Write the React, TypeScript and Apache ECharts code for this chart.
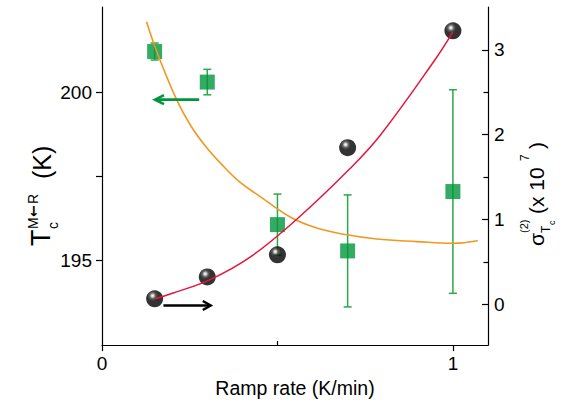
import React, { useEffect, useRef } from "react";
import * as echarts from "echarts";

// Transition temperature T_c (left axis) versus ramp rate
const rampRates = [0.15, 0.3, 0.5, 0.7, 1.0];
const tcValues = [193.85, 194.5, 195.16, 198.35, 201.83];

// Variance sigma^(2) (right axis, x 10^7) with error bars
const sigmaValues = [2.98, 2.62, 0.94, 0.63, 1.33];
const sigmaErrors = [0.1, 0.15, 0.36, 0.66, 1.2];

// Fitted curve through T_c
const tcFitX = [0.151, 0.203, 0.308, 0.422, 0.555, 0.707, 0.793, 0.949, 1.0];
const tcFitY = [193.85, 194.02, 194.42, 195.09, 196.22, 197.73, 198.72, 200.97, 201.8];

// Fitted curve through sigma
const sigmaFitX = [0.127, 0.156, 0.213, 0.254, 0.294, 0.341, 0.393, 0.451, 0.536, 0.612, 0.698, 0.783, 0.897, 1.0, 1.071];
const sigmaFitY = [3.33, 2.98, 2.41, 2.1, 1.87, 1.65, 1.44, 1.27, 1.03, 0.9, 0.82, 0.77, 0.74, 0.72, 0.75];

// Axis ticks
const xLabels = [0, 1];
const xMinorTicks = [0.5];
const leftLabels = [195, 200];
const leftTicks = [195, 197.5, 200];
const rightLabels = [0, 1, 2, 3];
const rightMinorTicks = [0.5, 1.5, 2.5];

// Arrows pointing at the axis each data set belongs to: [xStart, xEnd, y on left axis]
const blackArrow = [[0.175, 0.31, 193.65]];
const greenArrow = [[0.277, 0.151, 199.78]];

const FONT = "'Liberation Sans', Arial, Helvetica, sans-serif";
const GREEN = "#00963c";
const GREEN_BAR = "#2aa84a";

function arrowRenderer(color: string, width: number, headLen: number, headHalf: number) {
  return (params: any, api: any) => {
    const p1 = api.coord([api.value(0), api.value(2)]);
    const p2 = api.coord([api.value(1), api.value(2)]);
    const dir = p2[0] > p1[0] ? 1 : -1;
    return {
      type: "group",
      children: [
        {
          type: "line",
          shape: { x1: p1[0], y1: p1[1], x2: p2[0] - dir * 1, y2: p2[1] },
          style: { stroke: color, lineWidth: width },
        },
        {
          type: "polyline",
          shape: {
            points: [
              [p2[0] - dir * headLen, p2[1] - headHalf],
              [p2[0], p2[1]],
              [p2[0] - dir * headLen, p2[1] + headHalf],
            ],
          },
          style: { stroke: color, lineWidth: width, fill: "none", lineJoin: "miter" },
        },
      ],
    };
  };
}

export default function App() {
  const ref = useRef<HTMLDivElement>(null);

  useEffect(() => {
    document.body.style.margin = "0";
    const chart = echarts.init(ref.current!, null, { renderer: "svg" });

    const sphere = new echarts.graphic.RadialGradient(0.38, 0.32, 0.68, [
      { offset: 0, color: "#ffffff" },
      { offset: 0.1, color: "#d0d0d0" },
      { offset: 0.26, color: "#3a3a3a" },
      { offset: 0.45, color: "#000000" },
      { offset: 1, color: "#000000" },
    ]);

    const axisLine = { show: true, onZero: false, lineStyle: { color: "#000", width: 1.2 } };
    const labelStyle = { color: "#000", fontSize: 19, fontFamily: FONT };

    chart.setOption({
      animation: false,
      backgroundColor: "#fff",
      grid: { left: 102, right: 77, top: 7, bottom: 56 },
      xAxis: [
        {
          type: "value",
          min: 0,
          max: 1.1,
          position: "bottom",
          axisLine,
          axisTick: { show: true, customValues: xLabels, length: 6, lineStyle: { color: "#000", width: 1.2 } },
          axisLabel: { ...labelStyle, customValues: xLabels, margin: 9 },
          splitLine: { show: false },
          name: "Ramp rate (K/min)",
          nameLocation: "middle",
          nameGap: 30,
          nameTextStyle: { color: "#000", fontSize: 19.5, fontFamily: FONT },
        },
        {
          type: "value",
          min: 0,
          max: 1.1,
          position: "bottom",
          axisLine: { show: false, onZero: false },
          axisTick: { show: true, inside: true, customValues: xMinorTicks, length: 4, lineStyle: { color: "#000", width: 1.2 } },
          axisLabel: { show: false },
          splitLine: { show: false },
        },
      ],
      yAxis: [
        {
          type: "value",
          min: 192.47,
          max: 202.54,
          position: "left",
          axisLine,
          axisTick: { show: true, customValues: leftTicks, length: 6, lineStyle: { color: "#000", width: 1.2 } },
          axisLabel: { ...labelStyle, customValues: leftLabels, margin: 10 },
          splitLine: { show: false },
        },
        {
          type: "value",
          min: -0.48,
          max: 3.505,
          position: "right",
          axisLine,
          axisTick: { show: true, inside: true, customValues: rightLabels, length: 6, lineStyle: { color: "#000", width: 1.2 } },
          axisLabel: { ...labelStyle, customValues: rightLabels, margin: 6 },
          splitLine: { show: false },
        },
        {
          type: "value",
          min: -0.48,
          max: 3.505,
          position: "right",
          axisLine: { show: false, onZero: false },
          axisTick: { show: true, inside: true, customValues: rightMinorTicks, length: 4.5, lineStyle: { color: "#000", width: 1.2 } },
          axisLabel: { show: false },
          splitLine: { show: false },
        },
      ],
      series: [
        {
          name: "sigma error",
          type: "custom",
          xAxisIndex: 0,
          yAxisIndex: 1,
          z: 2,
          data: rampRates.map((x, i) => [x, sigmaValues[i], sigmaErrors[i]]),
          encode: { x: 0, y: 1 },
          renderItem: (params: any, api: any) => {
            const x = api.value(0);
            const y = api.value(1);
            const e = api.value(2);
            const top = api.coord([x, y + e]);
            const bot = api.coord([x, y - e]);
            const hw = 4;
            const st = { stroke: GREEN_BAR, lineWidth: 1.5 };
            return {
              type: "group",
              children: [
                { type: "line", shape: { x1: top[0], y1: top[1], x2: bot[0], y2: bot[1] }, style: st },
                { type: "line", shape: { x1: top[0] - hw, y1: top[1], x2: top[0] + hw, y2: top[1] }, style: st },
                { type: "line", shape: { x1: bot[0] - hw, y1: bot[1], x2: bot[0] + hw, y2: bot[1] }, style: st },
              ],
            };
          },
        },
        {
          name: "sigma",
          type: "scatter",
          xAxisIndex: 0,
          yAxisIndex: 1,
          z: 3,
          symbol: "rect",
          symbolSize: 15,
          itemStyle: { color: GREEN },
          data: rampRates.map((x, i) => [x, sigmaValues[i]]),
        },
        {
          name: "sigma fit",
          type: "line",
          xAxisIndex: 0,
          yAxisIndex: 1,
          z: 4,
          smooth: 0.4,
          showSymbol: false,
          symbol: "none",
          lineStyle: { color: "#f0981f", width: 1.6 },
          data: sigmaFitX.map((x, i) => [x, sigmaFitY[i]]),
        },
        {
          name: "Tc",
          type: "scatter",
          xAxisIndex: 0,
          yAxisIndex: 0,
          z: 5,
          symbol: "circle",
          symbolSize: 17,
          itemStyle: { color: sphere },
          data: rampRates.map((x, i) => [x, tcValues[i]]),
        },
        {
          name: "Tc fit",
          type: "line",
          xAxisIndex: 0,
          yAxisIndex: 0,
          z: 6,
          smooth: 0.4,
          showSymbol: false,
          symbol: "none",
          lineStyle: { color: "#e5163c", width: 1.5 },
          data: tcFitX.map((x, i) => [x, tcFitY[i]]),
        },
        {
          name: "black arrow",
          type: "custom",
          xAxisIndex: 0,
          yAxisIndex: 0,
          z: 6,
          data: blackArrow,
          encode: { x: [0, 1], y: 2 },
          renderItem: arrowRenderer("#000", 2.4, 8, 4.5),
        },
        {
          name: "green arrow",
          type: "custom",
          xAxisIndex: 0,
          yAxisIndex: 0,
          z: 6,
          data: greenArrow,
          encode: { x: [0, 1], y: 2 },
          renderItem: arrowRenderer(GREEN, 2.6, 9, 4.5),
        },
      ],
      graphic: [
        {
          // left axis title: T_c^{M<-R} (K), reading bottom to top
          type: "group",
          x: 54,
          y: 246,
          rotation: Math.PI / 2,
          children: [
            { type: "text", x: 0, y: 0, style: { text: "T", fontSize: 27, fontFamily: FONT, fill: "#000", verticalAlign: "bottom" } },
            { type: "text", x: 17, y: -14, style: { text: "M", fontSize: 14, fontFamily: FONT, fill: "#000", verticalAlign: "bottom" } },
            { type: "text", x: 29, y: -14, style: { text: "←", fontSize: 14, fontWeight: "bold", fontFamily: "'DejaVu Sans'", fill: "#000", verticalAlign: "bottom" } },
            { type: "text", x: 42, y: -14, style: { text: "R", fontSize: 14, fontFamily: FONT, fill: "#000", verticalAlign: "bottom" } },
            { type: "text", x: 17, y: 6, style: { text: "c", fontSize: 14, fontFamily: FONT, fill: "#000", verticalAlign: "bottom" } },
            { type: "text", x: 67, y: 0, style: { text: "(K)", fontSize: 25, fontFamily: FONT, fill: "#000", verticalAlign: "bottom" } },
          ],
        },
        {
          // right axis title: sigma_{T_c}^{(2)} (x 10^7)
          type: "group",
          x: 547,
          y: 246,
          rotation: Math.PI / 2,
          children: [
            { type: "text", x: 0, y: 0, style: { text: "σ", fontSize: 21, fontFamily: FONT, fill: "#000", verticalAlign: "bottom" } },
            { type: "text", x: 13, y: -18, style: { text: "(2)", fontSize: 11, fontFamily: FONT, fill: "#000", verticalAlign: "bottom" } },
            { type: "text", x: 13, y: 5, style: { text: "T", fontSize: 12, fontFamily: FONT, fill: "#000", verticalAlign: "bottom" } },
            { type: "text", x: 21, y: 9, style: { text: "c", fontSize: 9, fontFamily: FONT, fill: "#000", verticalAlign: "bottom" } },
            { type: "text", x: 32, y: 0, style: { text: "(x 10", fontSize: 21, fontFamily: FONT, fill: "#000", verticalAlign: "bottom" } },
            { type: "text", x: 85, y: -16, style: { text: "7", fontSize: 12, fontFamily: FONT, fill: "#000", verticalAlign: "bottom" } },
            { type: "text", x: 97, y: 0, style: { text: ")", fontSize: 21, fontFamily: FONT, fill: "#000", verticalAlign: "bottom" } },
          ],
        },
      ],
    });

    return () => chart.dispose();
  }, []);

  return <div ref={ref} style={{ width: 565, height: 403 }} />;
}
